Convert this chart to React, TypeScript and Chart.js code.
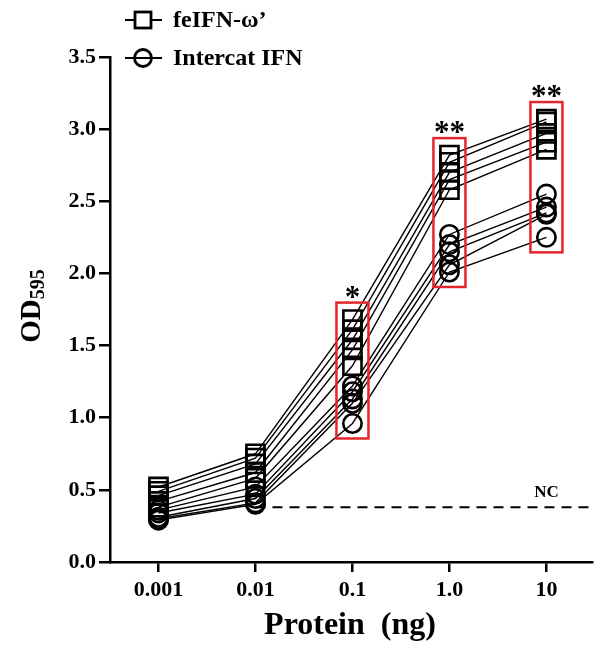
import React, { useEffect, useRef } from 'react';
import { Chart, registerables } from 'chart.js';

Chart.register(...registerables);

// ---- data ----
const doseLabels = ['0.001', '0.01', '0.1', '1.0', '10'];
const yTickValues = [0, 0.5, 1.0, 1.5, 2.0, 2.5, 3.0, 3.5];

const feIFN1 = [0.52, 0.75, 1.68, 2.82, 3.07];
const feIFN2 = [0.49, 0.72, 1.61, 2.77, 3.05];
const feIFN3 = [0.46, 0.68, 1.54, 2.70, 2.97];
const feIFN4 = [0.42, 0.62, 1.47, 2.65, 2.91];
const feIFN5 = [0.38, 0.58, 1.36, 2.58, 2.86];

const intercat1 = [0.36, 0.52, 1.22, 2.27, 2.55];
const intercat2 = [0.34, 0.47, 1.18, 2.20, 2.46];
const intercat3 = [0.31, 0.44, 1.13, 2.15, 2.42];
const intercat4 = [0.30, 0.41, 1.10, 2.06, 2.41];
const intercat5 = [0.29, 0.40, 0.96, 2.01, 2.25];

const feIFNSeries = [feIFN1, feIFN2, feIFN3, feIFN4, feIFN5];
const intercatSeries = [intercat1, intercat2, intercat3, intercat4, intercat5];

const ncValue = 0.38;
const significance = ['', '', '*', '**', '**'];
const legendLabels = ['feIFN-\u03C9\u2019', 'Intercat IFN'];

const FONT = "'Liberation Serif', 'Times New Roman', serif";

export default function App() {
  const ref = useRef<HTMLCanvasElement | null>(null);

  useEffect(() => {
    document.body.style.margin = '0';
    const canvas = ref.current;
    if (!canvas) return;

    const mk = (vals: number[], style: string, label: string) => ({
      label,
      data: vals.map((v, i) => ({ x: i, y: v })),
      borderColor: '#000',
      borderWidth: 1.4,
      pointStyle: style,
      pointRadius: style === 'rect' ? 12.8 : 9.2,
      pointBorderWidth: 2.6,
      pointBorderColor: '#000',
      pointBackgroundColor: 'rgba(255,255,255,0)',
      fill: false,
      tension: 0,
    });

    const datasets = [
      ...feIFNSeries.map((s) => mk(s, 'rect', legendLabels[0])),
      ...intercatSeries.map((s) => mk(s, 'circle', legendLabels[1])),
    ];

    const overlay = {
      id: 'overlay',
      beforeDatasetsDraw(chart: any) {
        const { ctx, scales, chartArea } = chart;
        const y = scales.y.getPixelForValue(ncValue);
        ctx.save();
        ctx.strokeStyle = '#000';
        ctx.lineWidth = 2;
        ctx.setLineDash([10, 7]);
        ctx.beginPath();
        ctx.moveTo(scales.x.getPixelForValue(1), y);
        ctx.lineTo(chartArea.right, y);
        ctx.stroke();
        ctx.setLineDash([]);
        ctx.fillStyle = '#000';
        ctx.font = `bold 17px ${FONT}`;
        ctx.textAlign = 'center';
        ctx.textBaseline = 'bottom';
        ctx.fillText('NC', scales.x.getPixelForValue(4), y - 6);
        ctx.restore();
      },
      afterDatasetsDraw(chart: any) {
        const { ctx, scales } = chart;
        ctx.save();
        // red boxes + significance
        significance.forEach((sig, i) => {
          if (!sig) return;
          const vals = [...feIFNSeries, ...intercatSeries].map((s) => s[i]);
          const top = scales.y.getPixelForValue(Math.max(...vals)) - 17;
          const bottom = scales.y.getPixelForValue(Math.min(...vals)) + 15;
          const cx = scales.x.getPixelForValue(i);
          ctx.strokeStyle = '#e3262b';
          ctx.lineWidth = 2.5;
          ctx.strokeRect(cx - 16, top, 32, bottom - top);
          ctx.fillStyle = '#000';
          ctx.font = `bold 31px ${FONT}`;
          ctx.textAlign = 'center';
          ctx.textBaseline = 'alphabetic';
          ctx.fillText(sig, cx, top + 4);
        });

        // legend
        const rows = [
          { y: 20, style: 'rect', text: legendLabels[0] },
          { y: 58, style: 'circle', text: legendLabels[1] },
        ];
        rows.forEach((r) => {
          ctx.strokeStyle = '#000';
          ctx.lineWidth = 2;
          ctx.beginPath();
          ctx.moveTo(125, r.y);
          ctx.lineTo(162, r.y);
          ctx.stroke();
          ctx.lineWidth = 2.8;
          ctx.fillStyle = '#fff';
          if (r.style === 'rect') {
            ctx.fillRect(135, r.y - 8, 16, 16);
            ctx.strokeRect(135, r.y - 8, 16, 16);
          } else {
            ctx.beginPath();
            ctx.arc(143, r.y, 8.5, 0, Math.PI * 2);
            ctx.fill();
            ctx.stroke();
            ctx.beginPath();
            ctx.lineWidth = 2;
            ctx.moveTo(134, r.y);
            ctx.lineTo(152, r.y);
            ctx.stroke();
          }
          ctx.fillStyle = '#000';
          ctx.font = `bold 24px ${FONT}`;
          ctx.textAlign = 'left';
          ctx.textBaseline = 'middle';
          ctx.fillText(r.text, 173, r.y + 1);
        });

        // x title
        ctx.font = `bold 32px ${FONT}`;
        ctx.textAlign = 'center';
        ctx.textBaseline = 'alphabetic';
        ctx.fillText('Protein  (ng)', 350, 634);

        // y title
        ctx.translate(40, 306);
        ctx.rotate(-Math.PI / 2);
        ctx.font = `bold 29px ${FONT}`;
        const w1 = ctx.measureText('OD').width;
        ctx.font = `bold 20px ${FONT}`;
        const w2 = ctx.measureText('595').width;
        const start = -(w1 + w2) / 2;
        ctx.font = `bold 29px ${FONT}`;
        ctx.textAlign = 'left';
        ctx.fillText('OD', start, 0);
        ctx.font = `bold 20px ${FONT}`;
        ctx.fillText('595', start + w1, 4);
        ctx.restore();
      },
    };

    const chart = new Chart(canvas, {
      type: 'line',
      data: { datasets: datasets as any },
      options: {
        animation: false,
        responsive: false,
        layout: { autoPadding: false, padding: { top: 57, right: 4, left: 0, bottom: 0 } },
        plugins: { legend: { display: false }, tooltip: { enabled: false } },
        scales: {
          x: {
            type: 'linear',
            min: -0.5,
            max: 4.47,
            afterFit: (s: any) => {
              s.height = 86;
              s.paddingLeft = 0;
              s.paddingRight = 0;
            },
            afterBuildTicks: (s: any) => {
              s.ticks = doseLabels.map((_, i) => ({ value: i }));
            },
            ticks: {
              callback: (v: any) => doseLabels[v] ?? '',
              color: '#000',
              font: { family: FONT, size: 22, weight: 'bold' },
              padding: 5,
              maxRotation: 0,
              autoSkip: false,
            },
            grid: {
              drawOnChartArea: false,
              drawTicks: true,
              tickLength: 10,
              color: '#000',
              lineWidth: 2.5,
            },
            border: { display: true, color: '#000', width: 2.5 },
          },
          y: {
            type: 'linear',
            min: 0,
            max: 3.5,
            afterFit: (s: any) => {
              s.width = 110;
              s.paddingTop = 0;
              s.paddingBottom = 0;
            },
            afterBuildTicks: (s: any) => {
              s.ticks = yTickValues.map((v) => ({ value: v }));
            },
            ticks: {
              callback: (v: any) => Number(v).toFixed(1),
              color: '#000',
              font: { family: FONT, size: 22, weight: 'bold' },
              padding: 3,
            },
            grid: {
              drawOnChartArea: false,
              drawTicks: true,
              tickLength: 11,
              color: '#000',
              lineWidth: 2.5,
            },
            border: { display: true, color: '#000', width: 2.5 },
          },
        },
      },
      plugins: [overlay],
    });

    return () => chart.destroy();
  }, []);

  return (
    <div style={{ position: 'absolute', left: 0, top: 0, width: 596, height: 648, background: '#fff' }}>
      <canvas ref={ref} width={596} height={648} />
    </div>
  );
}
